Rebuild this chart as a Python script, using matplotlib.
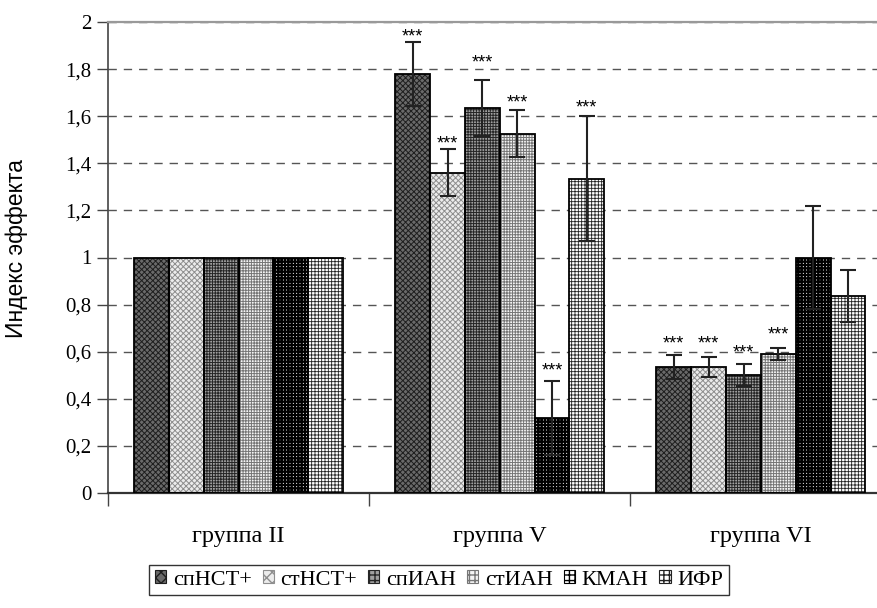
import numpy as np
import matplotlib
matplotlib.use("Agg")
import matplotlib.pyplot as plt
from matplotlib.patches import Patch

# data
groups = ["группа II", "группа V", "группа VI"]
series = ["спНСТ+", "стНСТ+", "спИАН", "стИАН", "КМАН", "ИФР"]
values = {
    "спНСТ+": [1.0, 1.78, 0.535],
    "стНСТ+": [1.0, 1.36, 0.535],
    "спИАН":  [1.0, 1.635, 0.50],
    "стИАН":  [1.0, 1.525, 0.59],
    "КМАН":   [1.0, 0.32, 1.0],
    "ИФР":    [1.0, 1.335, 0.835],
}
errors = {
    "спНСТ+": [0, 0.137, 0.052],
    "стНСТ+": [0, 0.10, 0.042],
    "спИАН":  [0, 0.118, 0.047],
    "стИАН":  [0, 0.10, 0.027],
    "КМАН":   [0, 0.157, 0.22],
    "ИФР":    [0, 0.267, 0.11],
}
# significance marks ("***") and the level where each one sits
marks = {
    "спНСТ+": ["", "***", "***"],
    "стНСТ+": ["", "***", "***"],
    "спИАН":  ["", "***", "***"],
    "стИАН":  ["", "***", "***"],
    "КМАН":   ["", "***", ""],
    "ИФР":    ["", "***", ""],
}
mark_y = {
    "спНСТ+": [0, 1.96, 0.653],
    "стНСТ+": [0, 1.503, 0.653],
    "спИАН":  [0, 1.848, 0.617],
    "стИАН":  [0, 1.68, 0.695],
    "КМАН":   [0, 0.54, 0],
    "ИФР":    [0, 1.659, 0],
}

# face colour, hatch colour, hatch pattern, hatch line width
styles = {
    "спНСТ+": ("#6a6a6a", "#1e1e1e", "xxxxxx", 0.7),
    "стНСТ+": ("#ececec", "#8e8e8e", "xxxxxx", 0.7),
    "спИАН":  ("#a0a0a0", "#262626", "++++++", 0.7),
    "стИАН":  ("#f4f4f4", "#767676", "++++++", 0.7),
    "КМАН":   ("#ffffff", "#000000", "+++++", 1.6),
    "ИФР":    ("#ffffff", "#222222", "+++++", 0.6),
}

serif = ["Liberation Serif", "DejaVu Serif"]
sans = ["Liberation Sans", "DejaVu Sans"]

fig = plt.figure(figsize=(8.77, 6.08), dpi=100)
ax = fig.add_axes([108 / 877, 115 / 608, 783.5 / 877, 471 / 608])

x = np.arange(len(groups))
w = 0.8 / len(series)
for i, s in enumerate(series):
    pos = x - 0.4 + w * (i + 0.5)
    face, hcol, hatch, hlw = styles[s]
    with plt.rc_context({"hatch.linewidth": hlw}):
        ax.bar(pos, values[s], w, color=face, edgecolor=hcol, hatch=hatch, linewidth=0, zorder=2)
    ax.bar(pos, values[s], w, fill=False, edgecolor="black", linewidth=1.3, zorder=3)
    err = np.array(errors[s])
    show = err > 0
    ax.errorbar(pos[show], np.array(values[s])[show], yerr=err[show], fmt="none",
                ecolor="#222222", elinewidth=1.5, capsize=6, capthick=1.5, zorder=4)
    for j, m in enumerate(marks[s]):
        if m:
            ax.annotate(m, (pos[j], mark_y[s][j]), xytext=(0, -7),
                        textcoords="offset points", ha="center", va="baseline",
                        fontsize=13, family=sans)

ax.set_ylim(0, 2)
ax.set_xlim(-0.5, 2.5)
ax.set_yticks(np.arange(0, 2.01, 0.2))
ax.set_yticklabels(["0", "0,2", "0,4", "0,6", "0,8", "1", "1,2", "1,4", "1,6", "1,8", "2"],
                   family=serif, fontsize=15)
ax.yaxis.grid(True, linestyle=(0, (6, 5)), color="#555555", linewidth=1.0)
ax.set_axisbelow(True)
ax.tick_params(axis="y", direction="out", length=8, width=1.0, color="#444444", pad=4)

ax.set_xticks([-0.5, 0.5, 1.5, 2.5])
ax.set_xticklabels([])
ax.set_xticks(x, minor=True)
ax.set_xticklabels(groups, minor=True, family=serif, fontsize=17.5)
ax.tick_params(axis="x", which="major", direction="out", length=9, width=1.0, color="#444444")
ax.tick_params(axis="x", which="minor", length=0, pad=24)

ax.spines["left"].set_color("#444444")
ax.spines["left"].set_linewidth(1.2)
ax.spines["bottom"].set_color("#333333")
ax.spines["bottom"].set_linewidth(1.6)
ax.spines["top"].set_color("#999999")
ax.spines["top"].set_linewidth(1.6)
ax.spines["right"].set_visible(False)

ax.set_ylabel("Индекс эффекта", family=sans, fontsize=16.5)
ax.yaxis.set_label_coords(-0.102, 0.52)

# legend built from proxy patches
handles = [Patch(facecolor=styles[s][0], edgecolor=styles[s][1], hatch=styles[s][2][:3], linewidth=0.8)
           for s in series]
leg = fig.legend(handles, series, loc="center", bbox_to_anchor=(439 / 877, 1 - 580 / 608),
                 ncol=6, frameon=True, fancybox=False, edgecolor="black",
                 prop={"family": serif, "size": 16}, handlelength=0.5, handleheight=0.5,
                 handletextpad=0.3, columnspacing=0.5, borderpad=0.25)
leg.get_frame().set_linewidth(1.0)

fig.savefig("out.png", dpi=100)
